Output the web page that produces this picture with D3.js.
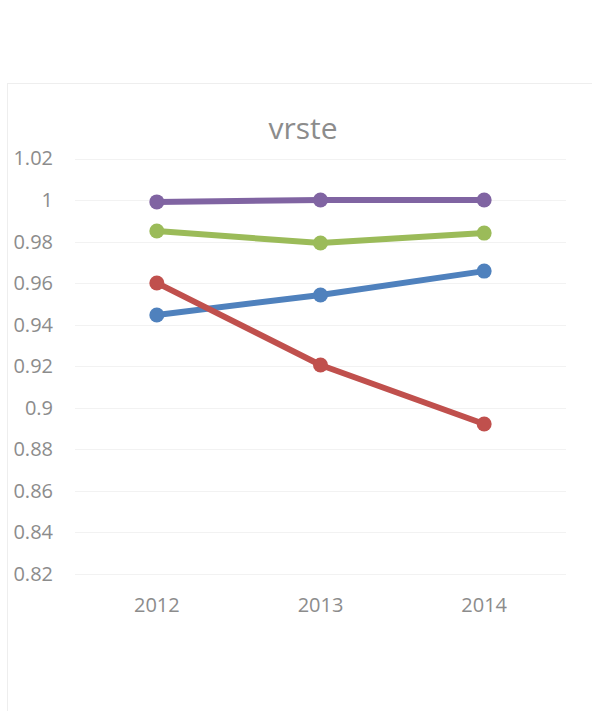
<!DOCTYPE html>
<html><head><meta charset="utf-8">
<script src="https://cdn.jsdelivr.net/npm/d3@7"></script>
<style>html,body{margin:0;padding:0;background:#fff;}svg{display:block;}</style>
</head><body>
<svg id="c" width="592" height="711"></svg>
<script>
const title = "vrste";
const categories = ["2012", "2013", "2014"];
const yTicks = [0.82, 0.84, 0.86, 0.88, 0.9, 0.92, 0.94, 0.96, 0.98, 1, 1.02];
const seriesBlue = [0.9447, 0.9543, 0.9658];
const seriesRed = [0.9601, 0.9206, 0.8922];
const seriesGreen = [0.9851, 0.9793, 0.9841];
const seriesPurple = [0.9991, 1.0, 1.0];

const series = [
  {values: seriesBlue, color: "#4F81BD"},
  {values: seriesRed, color: "#C0504D"},
  {values: seriesGreen, color: "#9BBB59"},
  {values: seriesPurple, color: "#8064A2"}
];

const svg = d3.select("#c");
const font = "'Open Sans', sans-serif";
const textColor = "#8c8c8c";

svg.append("rect").attr("x", 7.5).attr("y", 83.5).attr("width", 600).attr("height", 700)
  .attr("fill", "#fff").attr("stroke", "#eeeeee").attr("stroke-width", 1);

const x = d3.scaleBand().domain(categories).range([75, 566]);
const y = d3.scaleLinear().domain([0.82, 1.02]).range([574, 158.5]);

svg.append("text").attr("x", 303).attr("y", 139).attr("text-anchor", "middle")
  .attr("font-family", font).attr("font-size", 30).attr("fill", textColor).text(title);

const grid = svg.append("g");
grid.selectAll("line").data(yTicks).join("line")
  .attr("x1", 75).attr("x2", 566)
  .attr("y1", d => Math.round(y(d)) + 0.5).attr("y2", d => Math.round(y(d)) + 0.5)
  .attr("stroke", "#f2f2f2").attr("stroke-width", 1);

const yAxis = d3.axisLeft(y).tickValues(yTicks).tickSize(0).tickPadding(0).tickFormat(d3.format("~g"));
const yg = svg.append("g").attr("transform", "translate(53,0)").call(yAxis);
yg.select(".domain").remove();
yg.selectAll("text").attr("font-family", font).attr("font-size", 20).attr("fill", textColor);

const xAxis = d3.axisBottom(x).tickSize(0).tickPadding(0);
const xg = svg.append("g").attr("transform", "translate(0,598)").call(xAxis);
xg.select(".domain").remove();
xg.selectAll("text").attr("font-family", font).attr("font-size", 20).attr("fill", textColor).attr("dy", "0.71em");

const cx = c => x(c) + x.bandwidth() / 2;
const line = d3.line().x((d, i) => cx(categories[i])).y(d => y(d));

series.forEach(s => {
  const g = svg.append("g");
  g.append("path").attr("d", line(s.values)).attr("fill", "none")
    .attr("stroke", s.color).attr("stroke-width", 6).attr("stroke-linejoin", "round");
  g.selectAll("circle").data(s.values).join("circle")
    .attr("cx", (d, i) => cx(categories[i])).attr("cy", d => y(d)).attr("r", 7.5)
    .attr("fill", s.color);
});
</script>
</body></html>
